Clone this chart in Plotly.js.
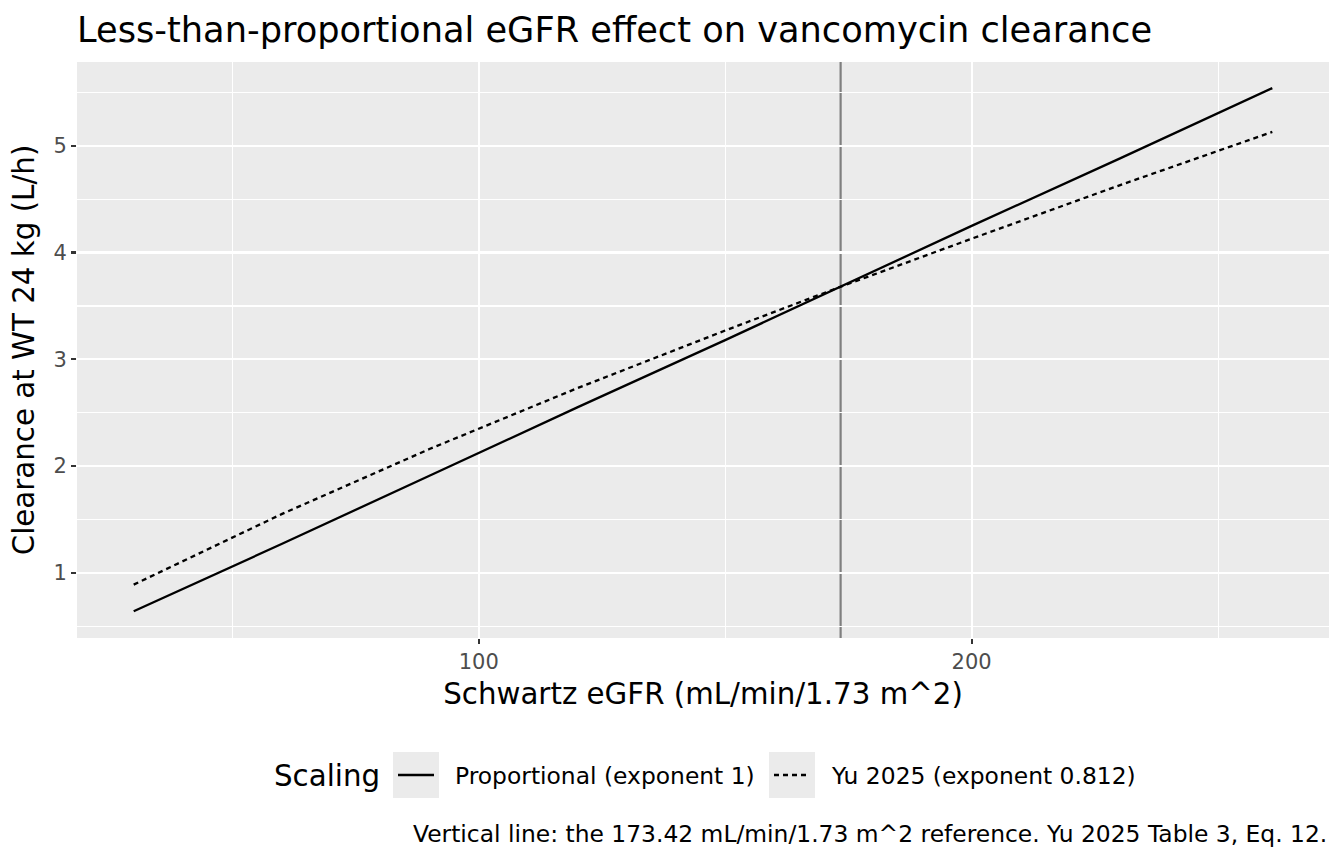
<!DOCTYPE html>
<html>
<head>
<meta charset="utf-8">
<script src="https://cdn.plot.ly/plotly-3.0.1.min.js"></script>
<style>
  html, body { margin: 0; padding: 0; background: #fff; }
  #chart { width: 1344px; height: 864px; }
</style>
</head>
<body>
<div id="chart"></div>
<script>
// values
var egfr = [30, 60, 90, 120, 150, 173.42, 200, 230, 261];
var clProportional = [0.64, 1.27, 1.91, 2.55, 3.18, 3.68, 4.25, 4.88, 5.54];
var clYu = [0.89, 1.55, 2.16, 2.73, 3.27, 3.68, 4.13, 4.63, 5.13];
var seriesNames = ['Proportional (exponent 1)', 'Yu 2025 (exponent 0.812)'];
var refEGFR = 173.42;

var FONT = 'DejaVu Sans, Liberation Sans, sans-serif';

// plot area in pixels, used to place the hand-made legend
var L = 77, R = 1329, T = 62, B = 638;
function px(x) { return (x - L) / (R - L); }
function py(y) { return (B - y) / (B - T); }

var data = [
  {
    x: egfr, y: clProportional, name: seriesNames[0],
    type: 'scatter', mode: 'lines',
    line: { color: '#000000', width: 2.3 }
  },
  {
    x: egfr, y: clYu, name: seriesNames[1],
    type: 'scatter', mode: 'lines',
    line: { color: '#000000', width: 2.3, dash: '5px,4px' }
  }
];

var shapes = [
  // reference eGFR
  { type: 'line', layer: 'between', xref: 'x', yref: 'paper',
    x0: refEGFR, x1: refEGFR, y0: 0, y1: 1,
    line: { color: '#7F7F7F', width: 2.2 } },
  // legend keys
  { type: 'rect', xref: 'paper', yref: 'paper', x0: px(393), x1: px(439), y0: py(752), y1: py(798),
    fillcolor: '#EBEBEB', line: { width: 0 } },
  { type: 'line', xref: 'paper', yref: 'paper', x0: px(398), x1: px(434), y0: py(775), y1: py(775),
    line: { color: '#000000', width: 2.3 } },
  { type: 'rect', xref: 'paper', yref: 'paper', x0: px(769), x1: px(815), y0: py(752), y1: py(798),
    fillcolor: '#EBEBEB', line: { width: 0 } },
  { type: 'line', xref: 'paper', yref: 'paper', x0: px(774), x1: px(810), y0: py(775), y1: py(775),
    line: { color: '#000000', width: 2.3, dash: '5px,4px' } }
];

var annotations = [
  { xref: 'paper', yref: 'paper', x: px(272), y: py(776), xanchor: 'left', yanchor: 'middle',
    text: 'Scaling', showarrow: false, font: { family: FONT, size: 29.3, color: '#000000' } },
  { xref: 'paper', yref: 'paper', x: px(453), y: py(776), xanchor: 'left', yanchor: 'middle',
    text: seriesNames[0], showarrow: false, font: { family: FONT, size: 23.4, color: '#000000' } },
  { xref: 'paper', yref: 'paper', x: px(829), y: py(776), xanchor: 'left', yanchor: 'middle',
    text: seriesNames[1], showarrow: false, font: { family: FONT, size: 23.4, color: '#000000' } },
  { xref: 'paper', yref: 'paper', x: 1, y: py(834), xanchor: 'right', yanchor: 'middle',
    text: 'Vertical line: the 173.42 mL/min/1.73 m^2 reference. Yu 2025 Table 3, Eq. 12.',
    showarrow: false, font: { family: FONT, size: 23.4, color: '#000000' } }
];

var layout = {
  width: 1344,
  height: 864,
  margin: { l: L, r: 1344 - R, t: T, b: 864 - B, pad: 0 },
  paper_bgcolor: '#FFFFFF',
  plot_bgcolor: '#EBEBEB',
  showlegend: false,
  font: { family: FONT, color: '#000000' },
  title: {
    text: 'Less-than-proportional eGFR effect on vancomycin clearance',
    font: { family: FONT, size: 35.2, color: '#000000' },
    xref: 'paper', x: 0, xanchor: 'left',
    yref: 'container', y: 1 - 30 / 864, yanchor: 'middle'
  },
  xaxis: {
    range: [18.5, 272.5],
    tick0: 0, dtick: 100,
    showgrid: true, gridcolor: '#FFFFFF', gridwidth: 2.2,
    minor: { tick0: 0, dtick: 50, showgrid: true, gridcolor: '#FFFFFF', gridwidth: 1.1, ticks: '' },
    zeroline: false, showline: false,
    ticks: 'outside', ticklen: 5, tickwidth: 2.2, tickcolor: '#333333',
    tickfont: { family: FONT, size: 21, color: '#4D4D4D' },
    title: { text: 'Schwartz eGFR (mL/min/1.73 m^2)', standoff: 10,
             font: { family: FONT, size: 29.3, color: '#000000' } }
  },
  yaxis: {
    range: [0.39, 5.785],
    tick0: 0, dtick: 1,
    showgrid: true, gridcolor: '#FFFFFF', gridwidth: 2.2,
    minor: { tick0: 0, dtick: 0.5, showgrid: true, gridcolor: '#FFFFFF', gridwidth: 1.1, ticks: '' },
    zeroline: false, showline: false,
    ticks: 'outside', ticklen: 5, tickwidth: 2.2, tickcolor: '#333333',
    tickfont: { family: FONT, size: 21, color: '#4D4D4D' },
    title: { text: 'Clearance at WT 24 kg (L/h)', standoff: 10,
             font: { family: FONT, size: 29.3, color: '#000000' } }
  },
  shapes: shapes,
  annotations: annotations
};

Plotly.newPlot('chart', data, layout, { displayModeBar: false, staticPlot: true });
</script>
</body>
</html>
